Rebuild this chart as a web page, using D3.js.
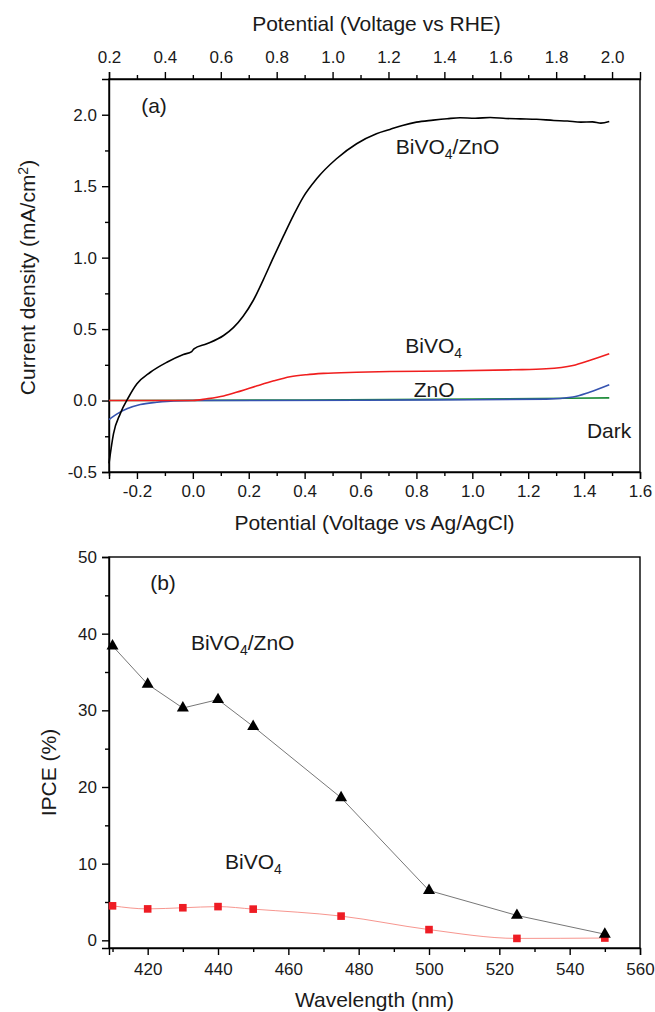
<!DOCTYPE html>
<html>
<head>
<meta charset="utf-8">
<script src="https://cdn.jsdelivr.net/npm/d3@7"></script>
<style>
  body { margin: 0; background: #fff; }
  svg { display: block; font-family: "Liberation Sans", Arial, sans-serif; }
  .axis path, .axis line { stroke: #000; stroke-width: 1.4; }
  .axis text { font-size: 17px; fill: #1a1a1a; font-family: "Liberation Sans", Arial, sans-serif; }
  .title { font-size: 21px; fill: #1a1a1a; }
  .lbl { font-size: 21px; fill: #1a1a1a; }
</style>
</head>
<body>
<div id="chart"></div>
<script>
// Panel (a): linear sweep voltammetry, potential vs Ag/AgCl (V) and current density (mA/cm2)
const bivo4ZnoV = [-0.3, -0.284, -0.26, -0.23, -0.2, -0.152, -0.093, -0.034, -0.004, 0.004, 0.05, 0.11, 0.145, 0.18, 0.216, 0.252, 0.288, 0.324, 0.36, 0.395, 0.443, 0.514, 0.586, 0.657, 0.705, 0.75, 0.8, 0.86, 0.91, 0.956, 1.01, 1.064, 1.12, 1.172, 1.23, 1.292, 1.34, 1.388, 1.43, 1.46, 1.49];
const bivo4ZnoJ = [-0.44, -0.233, -0.093, 0.023, 0.117, 0.198, 0.268, 0.322, 0.343, 0.362, 0.397, 0.455, 0.51, 0.59, 0.70, 0.845, 1.0, 1.15, 1.296, 1.424, 1.552, 1.692, 1.797, 1.867, 1.897, 1.925, 1.948, 1.962, 1.972, 1.979, 1.975, 1.981, 1.974, 1.971, 1.968, 1.96, 1.956, 1.948, 1.950, 1.941, 1.953];

const bivo4V = [-0.3, 0.0, 0.05, 0.11, 0.17, 0.23, 0.29, 0.348, 0.407, 0.467, 0.586, 0.705, 0.907, 1.145, 1.264, 1.36, 1.419, 1.49];
const bivo4J = [0, 0, 0.012, 0.032, 0.066, 0.103, 0.138, 0.166, 0.181, 0.19, 0.198, 0.203, 0.207, 0.215, 0.222, 0.245, 0.28, 0.327];

const znoV = [-0.3, -0.271, -0.236, -0.188, -0.129, -0.069, 0.0, 0.6, 1.0, 1.264, 1.36, 1.419, 1.49];
const znoJ = [-0.133, -0.093, -0.058, -0.028, -0.012, -0.002, 0.0, 0.002, 0.006, 0.01, 0.025, 0.058, 0.11];

const darkV = [-0.3, 0.4, 1.0, 1.49];
const darkJ = [0, 0.004, 0.01, 0.019];

const agclTicks = [-0.2, 0.0, 0.2, 0.4, 0.6, 0.8, 1.0, 1.2, 1.4, 1.6];
const rheTicks = [0.2, 0.4, 0.6, 0.8, 1.0, 1.2, 1.4, 1.6, 1.8, 2.0];
const currentTicks = [-0.5, 0.0, 0.5, 1.0, 1.5, 2.0];

// Panel (b): IPCE (%) vs wavelength (nm)
const wavelengths = [410, 420, 430, 440, 450, 475, 500, 525, 550];
const ipceComposite = [38.4, 33.4, 30.3, 31.4, 27.9, 18.6, 6.5, 3.25, 0.8];
const ipceBivo4 = [4.5, 4.1, 4.25, 4.4, 4.07, 3.16, 1.4, 0.25, 0.3];
const wavelengthTicks = [420, 440, 460, 480, 500, 520, 540, 560];
const ipceTicks = [0, 10, 20, 30, 40, 50];

const W = 655, H = 1012;
const svg = d3.select("#chart").append("svg")
    .attr("width", W)
    .attr("height", H);
svg.append("rect").attr("width", W).attr("height", H).attr("fill", "#fff");

const fmt1 = d => d.toFixed(1);
const minorOf = ticks => ticks.slice(0, -1).map((t, i) => (t + ticks[i + 1]) / 2);

// text with a subscript part, e.g. [["BiVO"], ["4", true], ["/ZnO"]]
function chemLabel(g, x, y, parts) {
    const t = g.append("text").attr("class", "lbl").attr("x", x).attr("y", y);
    parts.forEach(([s, sub]) => {
        if (sub) {
            t.append("tspan").attr("dy", 5).style("font-size", "14px").text(s);
        } else {
            t.append("tspan").attr("dy", t.selectAll("tspan").size() ? -5 : 0).text(s);
        }
    });
    return t;
}

// ---------- Panel (a) ----------
const a = {left: 109, right: 640, top: 79, bottom: 472};
const xA = d3.scaleLinear().domain([-0.3, 1.6]).range([a.left, a.right]);
const xRhe = d3.scaleLinear().domain([0.2, 2.1]).range([a.left, a.right]);
const yA = d3.scaleLinear().domain([-0.5, 2.25]).range([a.bottom, a.top]);

// frame
svg.append("rect")
    .attr("x", a.left).attr("y", a.top)
    .attr("width", a.right - a.left).attr("height", a.bottom - a.top)
    .attr("fill", "none").attr("stroke", "#000").attr("stroke-width", 1.4);

// bottom axis (Ag/AgCl)
svg.append("g").attr("class", "axis")
    .attr("transform", `translate(0,${a.bottom})`)
    .call(d3.axisBottom(xA).tickValues(agclTicks).tickFormat(fmt1).tickSize(7).tickPadding(6));
svg.append("g").attr("class", "axis")
    .attr("transform", `translate(0,${a.bottom})`)
    .call(d3.axisBottom(xA).tickValues([-0.3].concat(minorOf(agclTicks))).tickFormat("").tickSize(4))
    .call(g => g.select(".domain").remove());

// top axis (RHE)
svg.append("g").attr("class", "axis")
    .attr("transform", `translate(0,${a.top})`)
    .call(d3.axisTop(xRhe).tickValues(rheTicks).tickFormat(fmt1).tickSize(7).tickPadding(9));
svg.append("g").attr("class", "axis")
    .attr("transform", `translate(0,${a.top})`)
    .call(d3.axisTop(xRhe).tickValues(minorOf(rheTicks).concat([1.9])).tickFormat("").tickSize(4))
    .call(g => g.select(".domain").remove());

// left axis
svg.append("g").attr("class", "axis")
    .attr("transform", `translate(${a.left},0)`)
    .call(d3.axisLeft(yA).tickValues(currentTicks).tickFormat(fmt1).tickSize(7).tickPadding(5));
svg.append("g").attr("class", "axis")
    .attr("transform", `translate(${a.left},0)`)
    .call(d3.axisLeft(yA).tickValues(minorOf(currentTicks)).tickFormat("").tickSize(4))
    .call(g => g.select(".domain").remove());

// curves
const lineA = d3.line()
    .x(d => xA(d[0]))
    .y(d => yA(d[1]))
    .curve(d3.curveMonotoneX);

const seriesA = [
    {v: darkV, j: darkJ, color: "#1e8c3a"},
    {v: znoV, j: znoJ, color: "#3553b0"},
    {v: bivo4V, j: bivo4J, color: "#f01e1e"},
    {v: bivo4ZnoV, j: bivo4ZnoJ, color: "#000"}
];
seriesA.forEach(s => {
    svg.append("path")
        .datum(d3.zip(s.v, s.j))
        .attr("fill", "none")
        .attr("stroke", s.color)
        .attr("stroke-width", 1.6)
        .attr("d", lineA);
});

// labels
svg.append("text").attr("class", "lbl")
    .attr("x", 154).attr("y", 113).attr("text-anchor", "middle").text("(a)");
chemLabel(svg, xA(0.726), yA(1.69), [["BiVO"], ["4", true], ["/ZnO"]]);
chemLabel(svg, xA(0.76), yA(0.30), [["BiVO"], ["4", true]]);
svg.append("text").attr("class", "lbl").attr("x", xA(0.79)).attr("y", yA(0.025)).text("ZnO");
svg.append("text").attr("class", "lbl").attr("x", xA(1.41)).attr("y", yA(-0.264)).text("Dark");

svg.append("text").attr("class", "title")
    .attr("x", (a.left + a.right) / 2 + 2).attr("y", 31)
    .attr("text-anchor", "middle").text("Potential (Voltage vs RHE)");
svg.append("text").attr("class", "title")
    .attr("x", (a.left + a.right) / 2).attr("y", 530)
    .attr("text-anchor", "middle").text("Potential (Voltage vs Ag/AgCl)");
const yTitleA = svg.append("text").attr("class", "title")
    .attr("transform", `translate(35,${(a.top + a.bottom) / 2 + 2}) rotate(-90)`)
    .attr("text-anchor", "middle");
yTitleA.append("tspan").text("Current density (mA/cm");
yTitleA.append("tspan").attr("dy", -7).style("font-size", "14px").text("2");
yTitleA.append("tspan").attr("dy", 7).text(")");

// ---------- Panel (b) ----------
const b = {left: 109, right: 640, top: 557, bottom: 948};
const xB = d3.scaleLinear().domain([409, 560]).range([b.left, b.right]);
const yB = d3.scaleLinear().domain([-1, 50]).range([b.bottom, b.top]);

svg.append("rect")
    .attr("x", b.left).attr("y", b.top)
    .attr("width", b.right - b.left).attr("height", b.bottom - b.top)
    .attr("fill", "none").attr("stroke", "#000").attr("stroke-width", 1.4);

svg.append("g").attr("class", "axis")
    .attr("transform", `translate(0,${b.bottom})`)
    .call(d3.axisBottom(xB).tickValues(wavelengthTicks).tickSize(7).tickPadding(8));
svg.append("g").attr("class", "axis")
    .attr("transform", `translate(0,${b.bottom})`)
    .call(d3.axisBottom(xB).tickValues([410].concat(minorOf(wavelengthTicks))).tickFormat("").tickSize(4))
    .call(g => g.select(".domain").remove());

svg.append("g").attr("class", "axis")
    .attr("transform", `translate(${b.left},0)`)
    .call(d3.axisLeft(yB).tickValues(ipceTicks).tickSize(7).tickPadding(5));
svg.append("g").attr("class", "axis")
    .attr("transform", `translate(${b.left},0)`)
    .call(d3.axisLeft(yB).tickValues(minorOf(ipceTicks)).tickFormat("").tickSize(4))
    .call(g => g.select(".domain").remove());

const bivo4Pts = d3.zip(wavelengths, ipceBivo4);
const compPts = d3.zip(wavelengths, ipceComposite);

svg.append("path")
    .datum(bivo4Pts)
    .attr("fill", "none")
    .attr("stroke", "#f7968f")
    .attr("stroke-width", 1)
    .attr("d", d3.line().x(d => xB(d[0])).y(d => yB(d[1])).curve(d3.curveMonotoneX));

svg.append("path")
    .datum(compPts)
    .attr("fill", "none")
    .attr("stroke", "#777")
    .attr("stroke-width", 1)
    .attr("d", d3.line().x(d => xB(d[0])).y(d => yB(d[1])));

svg.selectAll(".sq")
    .data(bivo4Pts)
    .enter().append("rect")
    .attr("class", "sq")
    .attr("x", d => xB(d[0]) - 3.8)
    .attr("y", d => yB(d[1]) - 3.8)
    .attr("width", 7.6)
    .attr("height", 7.6)
    .attr("fill", "#ee1c24");

svg.selectAll(".tri")
    .data(compPts)
    .enter().append("path")
    .attr("class", "tri")
    .attr("transform", d => `translate(${xB(d[0])},${yB(d[1])})`)
    .attr("d", d3.symbol(d3.symbolTriangle, 62))
    .attr("fill", "#000");

svg.append("text").attr("class", "lbl")
    .attr("x", 163).attr("y", 590).attr("text-anchor", "middle").text("(b)");
chemLabel(svg, xB(432.3), yB(37.2), [["BiVO"], ["4", true], ["/ZnO"]]);
chemLabel(svg, xB(442), yB(8.6), [["BiVO"], ["4", true]]);

svg.append("text").attr("class", "title")
    .attr("x", (b.left + b.right) / 2).attr("y", 1007)
    .attr("text-anchor", "middle").text("Wavelength (nm)");
svg.append("text").attr("class", "title")
    .attr("transform", `translate(56,${(b.top + b.bottom) / 2 + 20}) rotate(-90)`)
    .attr("text-anchor", "middle").text("IPCE (%)");
</script>
</body>
</html>
